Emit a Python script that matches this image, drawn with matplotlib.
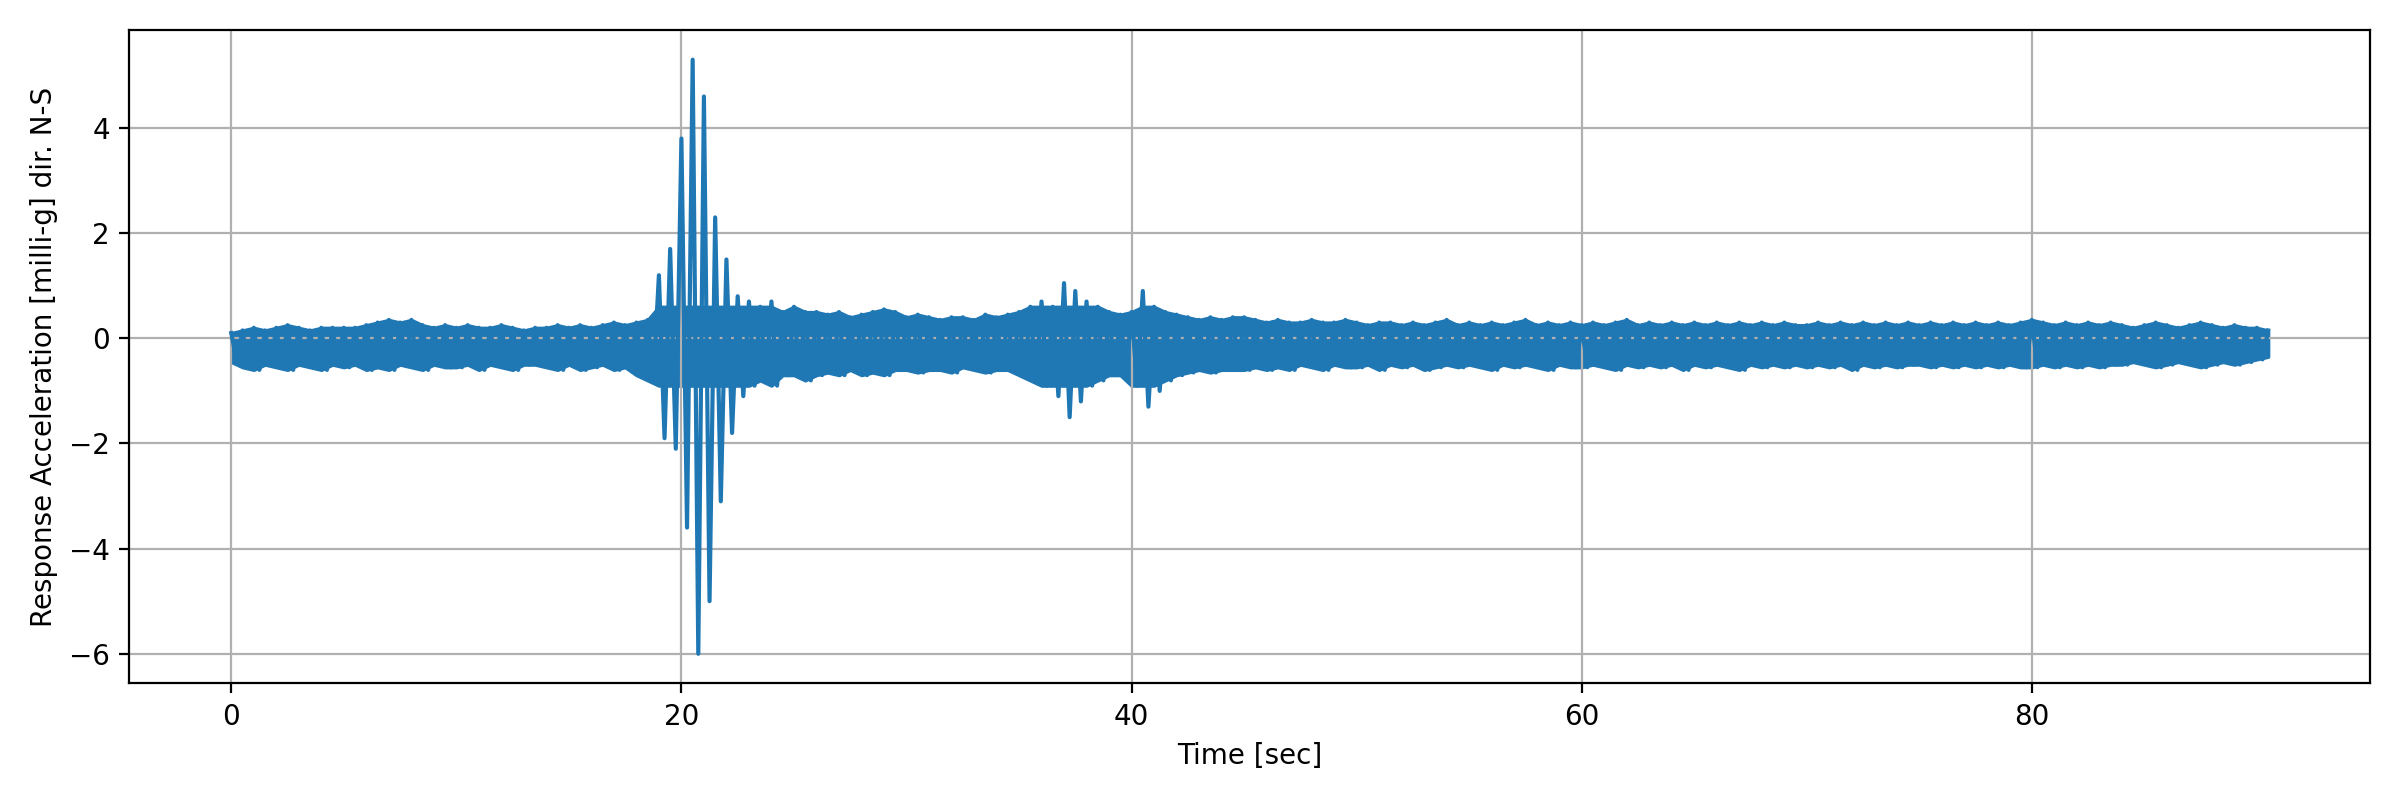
import numpy as np
import matplotlib
matplotlib.use("Agg")
import matplotlib.pyplot as plt

# envelope, one high and one low per 0.5 s (0 .. 90.5 s)
picos_altos = [
    0.1, 0.15, 0.2, 0.15, 0.2, 0.25, 0.2, 0.15, 0.2, 0.2,
    0.2, 0.2, 0.25, 0.3, 0.35, 0.3, 0.35, 0.25, 0.2, 0.25,
    0.2, 0.25, 0.2, 0.2, 0.25, 0.2, 0.15, 0.2, 0.2, 0.25,
    0.2, 0.25, 0.2, 0.25, 0.3, 0.25, 0.3, 0.35, 1.2, 1.7,
    3.8, 5.3, 4.6, 2.3, 1.5, 0.8, 0.7, 0.6, 0.7, 0.5,
    0.6, 0.5, 0.5, 0.45, 0.5, 0.4, 0.45, 0.5, 0.55, 0.5,
    0.4, 0.45, 0.4, 0.35, 0.4, 0.4, 0.35, 0.45, 0.4, 0.45,
    0.5, 0.6, 0.7, 0.6, 1.05, 0.9, 0.7, 0.6, 0.5, 0.45,
    0.5, 0.9, 0.6, 0.5, 0.45, 0.4, 0.35, 0.4, 0.35, 0.4,
    0.4, 0.35, 0.3, 0.35, 0.3, 0.3, 0.35, 0.3, 0.3, 0.35,
    0.3, 0.25, 0.3, 0.3, 0.25, 0.3, 0.25, 0.3, 0.35, 0.25,
    0.3, 0.25, 0.3, 0.25, 0.3, 0.35, 0.25, 0.3, 0.25, 0.3,
    0.25, 0.3, 0.25, 0.3, 0.35, 0.25, 0.3, 0.25, 0.3, 0.25,
    0.3, 0.25, 0.3, 0.25, 0.3, 0.25, 0.3, 0.25, 0.3, 0.25,
    0.25, 0.3, 0.25, 0.3, 0.25, 0.3, 0.25, 0.3, 0.25, 0.3,
    0.25, 0.3, 0.25, 0.3, 0.25, 0.3, 0.25, 0.3, 0.25, 0.3,
    0.35, 0.3, 0.25, 0.3, 0.25, 0.3, 0.25, 0.3, 0.25, 0.2,
    0.25, 0.3, 0.25, 0.2, 0.25, 0.3, 0.25, 0.2, 0.25, 0.2,
    0.2, 0.15,
]
picos_bajos = [
    -0.45, -0.55, -0.6, -0.5, -0.55, -0.6, -0.5, -0.55, -0.6, -0.5,
    -0.55, -0.5, -0.6, -0.55, -0.6, -0.5, -0.55, -0.6, -0.5, -0.55,
    -0.55, -0.5, -0.6, -0.5, -0.55, -0.6, -0.5, -0.5, -0.55, -0.6,
    -0.5, -0.6, -0.55, -0.5, -0.6, -0.55, -0.7, -0.8, -1.9, -2.1,
    -3.6, -6.0, -5.0, -3.1, -1.8, -1.1, -0.9, -0.8, -0.9, -0.7,
    -0.7, -0.8, -0.7, -0.65, -0.7, -0.6, -0.7, -0.65, -0.7, -0.6,
    -0.6, -0.65, -0.6, -0.6, -0.65, -0.55, -0.6, -0.65, -0.6, -0.6,
    -0.7, -0.8, -0.9, -1.1, -1.5, -1.2, -0.9, -0.8, -0.7, -0.7,
    -0.9, -1.3, -1.0, -0.8, -0.7, -0.65, -0.6, -0.65, -0.6, -0.6,
    -0.6, -0.55, -0.6, -0.55, -0.6, -0.5, -0.55, -0.6, -0.5, -0.55,
    -0.55, -0.5, -0.6, -0.5, -0.55, -0.5, -0.6, -0.55, -0.5, -0.55,
    -0.5, -0.55, -0.6, -0.5, -0.55, -0.5, -0.55, -0.6, -0.5, -0.55,
    -0.55, -0.5, -0.55, -0.6, -0.5, -0.55, -0.5, -0.55, -0.5, -0.6,
    -0.5, -0.55, -0.5, -0.55, -0.6, -0.5, -0.55, -0.5, -0.55, -0.5,
    -0.55, -0.5, -0.55, -0.5, -0.6, -0.5, -0.55, -0.5, -0.55, -0.5,
    -0.5, -0.55, -0.5, -0.55, -0.5, -0.55, -0.5, -0.55, -0.5, -0.55,
    -0.55, -0.5, -0.55, -0.5, -0.55, -0.5, -0.55, -0.5, -0.5, -0.45,
    -0.5, -0.55, -0.5, -0.45, -0.5, -0.55, -0.5, -0.45, -0.5, -0.45,
    -0.4, -0.35,
]

# tiempo de cada par alto/bajo
tiempo_env = np.arange(len(picos_altos)) * 0.5

# intercalar alto/bajo cada 0.25 s para la traza
tiempo = np.arange(len(picos_altos) * 2) * 0.25
senal = np.empty(len(picos_altos) * 2)
senal[0::2] = picos_altos
senal[1::2] = picos_bajos
tiempo = tiempo[:-1]
senal = senal[:-1]

# banda densa: solo el nucleo de la envolvente, los picos quedan como linea
banda_alta = np.minimum(picos_altos, 0.6)
banda_baja = np.maximum(picos_bajos, -0.9)

fig, ax = plt.subplots(figsize=(12, 4), dpi=200)
ax.fill_between(tiempo_env, banda_baja, banda_alta, color="#1f77b4", linewidth=1.2)
ax.plot(tiempo, senal, color="#1f77b4", linewidth=1.5)
ax.set_xlabel("Time [sec]")
ax.set_ylabel("Response Acceleration [milli-g] dir. N-S")
ax.grid(True)
fig.tight_layout()
fig.savefig("out.png")
